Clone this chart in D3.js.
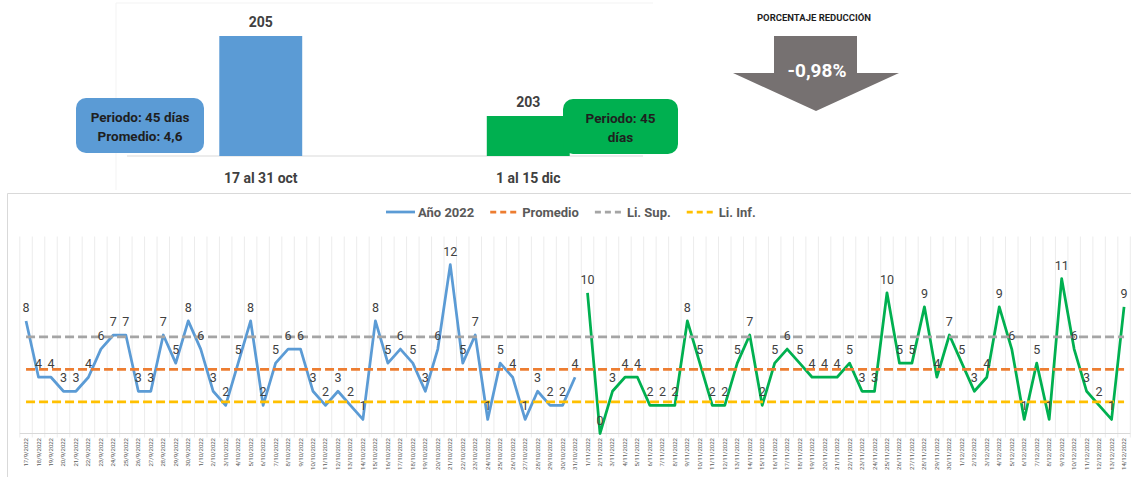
<!DOCTYPE html>
<html>
<head>
<meta charset="utf-8">
<script src="https://cdn.jsdelivr.net/npm/d3@7"></script>
<style>
  body { margin: 0; background: #fff; }
  svg { display: block; font-family: Roboto, "Noto Sans", sans-serif; }
</style>
</head>
<body>
<div id="chart"></div>
<script>
// top bar chart data
var periodCats = ['17 al 31 oct', '1 al 15 dic'];
var periodTotals = [205, 203];
var periodNotes = [['Periodo: 45 días', 'Promedio: 4,6'], ['Periodo: 45', 'días']];
var reductionText = '-0,98%';

// daily series
var dates2022 = [
  '17/9/2022','18/9/2022','19/9/2022','20/9/2022','21/9/2022','22/9/2022','23/9/2022','24/9/2022',
  '25/9/2022','26/9/2022','27/9/2022','28/9/2022','29/9/2022','30/9/2022',
  '1/10/2022','2/10/2022','3/10/2022','4/10/2022','5/10/2022','6/10/2022','7/10/2022','8/10/2022',
  '9/10/2022','10/10/2022','11/10/2022','12/10/2022','13/10/2022','14/10/2022','15/10/2022','16/10/2022',
  '17/10/2022','18/10/2022','19/10/2022','20/10/2022','21/10/2022','22/10/2022','23/10/2022','24/10/2022',
  '25/10/2022','26/10/2022','27/10/2022','28/10/2022','29/10/2022','30/10/2022','31/10/2022',
  '1/11/2022','2/11/2022','3/11/2022','4/11/2022','5/11/2022','6/11/2022','7/11/2022','8/11/2022',
  '9/11/2022','10/11/2022','11/11/2022','12/11/2022','13/11/2022','14/11/2022','15/11/2022','16/11/2022',
  '17/11/2022','18/11/2022','19/11/2022','20/11/2022','21/11/2022','22/11/2022','23/11/2022','24/11/2022',
  '25/11/2022','26/11/2022','27/11/2022','28/11/2022','29/11/2022','30/11/2022',
  '1/12/2022','2/12/2022','3/12/2022','4/12/2022','5/12/2022','6/12/2022','7/12/2022','8/12/2022',
  '9/12/2022','10/12/2022','11/12/2022','12/12/2022','13/12/2022','14/12/2022'
];
var valuesBefore = [8,4,4,3,3,4,6,7,7,3, 3,7,5,8,6,3,2,5,8,2, 5,6,6,3,2,3,2,1,8,5,
                    6,5,3,6,12,5,7,1,5,4, 1,3,2,2,4];
var valuesAfter = [10,0,3,4,4,2,2,2,8,5, 2,2,5,7,2,5,6,5,4,4, 4,5,3,3,10,5,5,9,4,7,
                   5,3,4,9,6,1,5,1,11,6, 3,2,1,9];
var promedio = 4.56;
var limSup = 6.87;
var limInf = 2.24;

var legendItems = [
  { name: 'Año 2022', color: '#5b9bd5', dash: false },
  { name: 'Promedio', color: '#ed7d31', dash: true },
  { name: 'Li. Sup.', color: '#a5a5a5', dash: true },
  { name: 'Li. Inf.', color: '#ffc000', dash: true }
];

var width = 1131, height = 477;
var blue = '#5b9bd5', green = '#00b050', textGrey = '#404040';

var svg = d3.select('#chart').append('svg')
    .attr('width', width)
    .attr('height', height);

svg.append('rect').attr('width', width).attr('height', height).attr('fill', '#fff');

// ---------- top section ----------
var topGroup = svg.append('g');

// faint chart frame
topGroup.append('path')
    .attr('d', 'M116,190 V3 H653')
    .attr('fill', 'none')
    .attr('stroke', '#f3f3f3');

var xBar = d3.scaleBand()
    .domain(periodCats)
    .range([127, 662])
    .paddingInner(0.69)
    .paddingOuter(0.345);

var yBar = d3.scaleLinear()
    .domain([202, 205])
    .range([156, 36]);

topGroup.append('line')
    .attr('x1', 127).attr('x2', 643)
    .attr('y1', yBar(202)).attr('y2', yBar(202))
    .attr('stroke', '#d9d9d9');

topGroup.selectAll('rect.bar')
    .data(periodTotals)
    .enter()
    .append('rect')
    .attr('class', 'bar')
    .attr('x', (d, i) => xBar(periodCats[i]))
    .attr('width', xBar.bandwidth())
    .attr('y', d => yBar(d))
    .attr('height', d => yBar(202) - yBar(d))
    .attr('fill', (d, i) => i === 0 ? blue : green);

topGroup.selectAll('text.val')
    .data(periodTotals)
    .enter()
    .append('text')
    .attr('class', 'val')
    .attr('x', (d, i) => xBar(periodCats[i]) + xBar.bandwidth() / 2)
    .attr('y', d => yBar(d) - 9)
    .attr('text-anchor', 'middle')
    .attr('font-size', 14)
    .attr('font-weight', 'bold')
    .attr('fill', textGrey)
    .text(d => d);

topGroup.selectAll('text.cat')
    .data(periodCats)
    .enter()
    .append('text')
    .attr('class', 'cat')
    .attr('x', d => xBar(d) + xBar.bandwidth() / 2)
    .attr('y', 183)
    .attr('text-anchor', 'middle')
    .attr('font-size', 14)
    .attr('font-weight', 'bold')
    .attr('fill', textGrey)
    .text(d => d);

// rounded note boxes
var boxes = [
  { x: 76, y: 98, w: 128, h: 55, fill: blue },
  { x: 563, y: 99, w: 115, h: 55, fill: green }
];
boxes.forEach((b, i) => {
    topGroup.append('rect')
        .attr('x', b.x).attr('y', b.y)
        .attr('width', b.w).attr('height', b.h)
        .attr('rx', 10)
        .attr('fill', b.fill);
    topGroup.append('text')
        .attr('x', b.x + b.w / 2)
        .attr('y', b.y + 24)
        .attr('text-anchor', 'middle')
        .attr('font-size', 13.5)
        .attr('font-weight', 'bold')
        .attr('fill', '#1f1f1f')
        .selectAll('tspan')
        .data(periodNotes[i])
        .enter()
        .append('tspan')
        .attr('x', b.x + b.w / 2)
        .attr('dy', (d, j) => j === 0 ? 0 : 19)
        .text(d => d);
});

// reduction arrow
topGroup.append('text')
    .attr('x', 814).attr('y', 21)
    .attr('text-anchor', 'middle')
    .attr('font-size', 9.5)
    .attr('font-weight', 'bold')
    .attr('fill', '#1f1f1f')
    .text('PORCENTAJE REDUCCIÓN');

topGroup.append('polygon')
    .attr('points', '774,36 857,36 857,73 899,73 816,111 733,73 774,73')
    .attr('fill', '#767171');

topGroup.append('text')
    .attr('x', 817).attr('y', 77)
    .attr('text-anchor', 'middle')
    .attr('font-size', 19)
    .attr('font-weight', 'bold')
    .attr('fill', '#fff')
    .text(reductionText);

// ---------- bottom line chart ----------
var bottomGroup = svg.append('g');

bottomGroup.append('path')
    .attr('d', `M7.5,${height} V193.5 H${width}`)
    .attr('fill', 'none')
    .attr('stroke', '#d9d9d9');

var x = d3.scaleBand()
    .domain(dates2022)
    .range([19.8, 1130.3]);

var y = d3.scaleLinear()
    .domain([0, 14])
    .range([433.5, 236.5]);

var cx = d => x(d) + x.bandwidth() / 2;

// vertical gridlines at category boundaries
var bounds = dates2022.map(d => x(d)).concat([x.range()[1]]);
bottomGroup.selectAll('line.grid')
    .data(bounds)
    .enter()
    .append('line')
    .attr('class', 'grid')
    .attr('x1', d => d).attr('x2', d => d)
    .attr('y1', y(14)).attr('y2', y(0) + 4)
    .attr('stroke', '#ececec');

bottomGroup.append('line')
    .attr('x1', x.range()[0]).attr('x2', x.range()[1])
    .attr('y1', y(0)).attr('y2', y(0))
    .attr('stroke', '#d9d9d9');

// x tick labels
bottomGroup.selectAll('text.tick')
    .data(dates2022)
    .enter()
    .append('text')
    .attr('class', 'tick')
    .attr('transform', d => `translate(${cx(d) + 2}, 438) rotate(-90)`)
    .attr('text-anchor', 'end')
    .attr('font-size', 6)
    .attr('fill', '#595959')
    .text(d => d);

var before = valuesBefore.map((v, i) => ({ date: dates2022[i], value: v }));
var after = valuesAfter.map((v, i) => ({ date: dates2022[valuesBefore.length + i], value: v }));

var line = d3.line()
    .x(d => cx(d.date))
    .y(d => y(d.value));

bottomGroup.append('path')
    .datum(before)
    .attr('d', line)
    .attr('fill', 'none')
    .attr('stroke', blue)
    .attr('stroke-width', 2.75)
    .attr('stroke-linejoin', 'round');

bottomGroup.append('path')
    .datum(after)
    .attr('d', line)
    .attr('fill', 'none')
    .attr('stroke', green)
    .attr('stroke-width', 2.75)
    .attr('stroke-linejoin', 'round');

// reference lines
var refs = [
  { value: promedio, color: '#ed7d31' },
  { value: limSup, color: '#a5a5a5' },
  { value: limInf, color: '#ffc000' }
];
var first = dates2022[0], last = dates2022[dates2022.length - 1];
bottomGroup.selectAll('line.ref')
    .data(refs)
    .enter()
    .append('line')
    .attr('class', 'ref')
    .attr('x1', cx(first)).attr('x2', cx(last))
    .attr('y1', d => y(d.value)).attr('y2', d => y(d.value))
    .attr('stroke', d => d.color)
    .attr('stroke-width', 2.75)
    .attr('stroke-dasharray', '9,4');

// point labels
bottomGroup.selectAll('text.lbl')
    .data(before.concat(after))
    .enter()
    .append('text')
    .attr('class', 'lbl')
    .attr('x', d => cx(d.date))
    .attr('y', d => y(d.value) - 9)
    .attr('text-anchor', 'middle')
    .attr('font-size', 12.5)
    .attr('fill', textGrey)
    .text(d => d.value);

// legend
var legend = bottomGroup.append('g');
var lx = 386;
legendItems.forEach(item => {
    legend.append('line')
        .attr('x1', lx).attr('x2', lx + 29)
        .attr('y1', 212).attr('y2', 212)
        .attr('stroke', item.color)
        .attr('stroke-width', 2.75)
        .attr('stroke-dasharray', item.dash ? '6,4' : null);
    var t = legend.append('text')
        .attr('x', lx + 32).attr('y', 216.5)
        .attr('font-size', 13)
        .attr('font-weight', 'bold')
        .attr('fill', '#595959')
        .text(item.name);
    lx += 32 + t.node().getComputedTextLength() + 16;
});
</script>
</body>
</html>
